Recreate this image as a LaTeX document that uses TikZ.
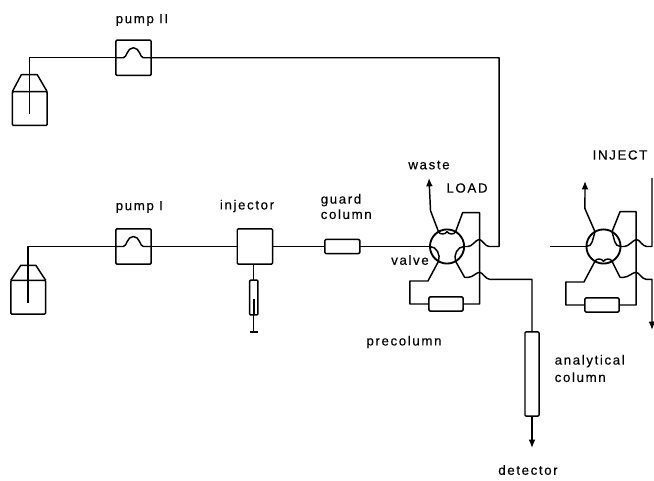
\documentclass[tikz,border=0pt]{standalone}
\usepackage{fontspec}
\setmainfont[LetterSpace=12,FakeBold=0.25]{Liberation Sans}
\usetikzlibrary{arrows.meta,positioning,calc}

\begin{document}
\begin{tikzpicture}[
  x=0.75pt,y=-0.75pt,
  font=\fontsize{10}{11.5}\selectfont, line width=1.1pt, line join=round,
  >={Latex[length=2.2mm,width=1.8mm]},
  unit/.style={draw,rounded corners=0.8pt,outer sep=0pt,inner sep=0pt},
  pumpbox/.style={unit,minimum width=9.3mm,minimum height=9.3mm},
  tubebox/.style={unit,minimum width=9.2mm,minimum height=3.7mm},
  flask/.style={unit,minimum width=9.2mm,minimum height=8.9mm},
  valvebox/.style={unit,circle,minimum size=9mm,line width=1.4pt},
  lbl/.style={inner sep=0pt,align=left}]
  \useasboundingbox (0,0) rectangle (654,481);
  % pumps and the first row
  \node[pumpbox] (pumpI) at (133.5,246.5) {};
  \node[pumpbox,above=40.45mm of pumpI] (pumpII) {};
  \node[pumpbox,right=22.7mm of pumpI] (injector) {};
  \node[tubebox,right=13.8mm of injector] (guard) {};
  \node[valvebox,right=18.5mm of guard] (valveL) {};
  \node[unit,minimum width=2.2mm,minimum height=9.2mm,below=4.2mm of injector,xshift=-0.3mm] (syringe) {};
  \node[tubebox,minimum width=9mm] (preL) at (446,304) {};
  \node[unit,minimum width=3.7mm,minimum height=22.2mm] (analytical) at (532,374) {};
  % the second valve
  \node[valvebox] (valveI) at (603.5,246.5) {};
  \node[tubebox,minimum width=9mm] (preI) at (602,305) {};
  % solvent flasks
  \node[flask,left=18.5mm of pumpI,yshift=-13.36mm] (flaskI) {};
  \node[flask,left=18.1mm of pumpII,yshift=-13.4mm] (flaskII) {};
  \draw (flaskI.north west) -- ++(10,-15) -- ++(15,0) -- (flaskI.north east);
  \draw (flaskII.north west) -- ++(9,-17) -- ++(16,0) -- (flaskII.north east);
  \coordinate (dipI) at ($(flaskI.south)+(0,-11)$);
  \coordinate (dipII) at ($(flaskII.south)+(0,-11)$);
  \draw (pumpI.west) -| (dipI);
  \draw (pumpII.west) -| (dipII);
  % pump heads
  \draw (pumpI.west) -- ++(7.5,0) .. controls +(3.5,0) and +(-6.5,0) .. ++(10,-10)
    .. controls +(6.5,0) and +(-3.5,0) .. ++(10,10) -- (pumpI.east);
  \draw (pumpII.west) -- ++(7.5,0) .. controls +(3.5,0) and +(-6.5,0) .. ++(10,-10)
    .. controls +(6.5,0) and +(-3.5,0) .. ++(10,10) -- (pumpII.east);
  % first row connectors
  \draw (pumpI.east) -- (injector.west);
  \draw (injector.east) -- (guard.west);
  \draw (guard.east) -- (valveL.west);
  \draw (injector.south -| syringe.north) -- (syringe.north);
  \coordinate (syringeEnd) at ($(syringe.south)+(0,17)$);
  \draw (syringe.south) -- (syringeEnd);
  \draw ($(syringeEnd)+(-4,0)$) -- ($(syringeEnd)+(4,0)$);
  \draw[line width=1.6pt] ($(syringe.south)+(0,-16)$) -- (syringe.south);
  % valve LOAD
  \coordinate (wasteL) at (429,178);
  \coordinate (detectorEnd) at (532,448);
  \draw[->] (valveL.120) -- ++(-8,-21) -- (wasteL);
  \draw (valveL.60) -- ++(7,-19) -- ++(17,0) |- (preL.east);
  \draw (preL.west) -- ++(-19,0) -- ++(0,-23) -- ++(18,0) -- (valveL.240);
  \draw (valveL.east) -- ++(4,0) .. controls +(4,0) and +(-3,0) .. ++(11,-7)
    .. controls +(3,0) and +(-4,0) .. ++(10,7) -- ++(10,0) |- (pumpII.east);
  \draw (valveL.300) -- ++(9,16) -- ++(4,0) .. controls +(4,0) and +(-3,0) .. ++(11,-5)
    .. controls +(3,0) and +(-4,0) .. ++(10,7) -| (analytical.north);
  \draw[->] (analytical.south) -- (detectorEnd);
  \draw (valveL.120) to[out=-70,in=-120] ($(valveL.120)!.5!(valveL.60)$)
    to[out=-60,in=-110] (valveL.60);
  \draw (valveL.west) to[out=0,in=70] (valveL.240);
  \draw (valveL.east) to[out=180,in=110] (valveL.300);
  % valve INJECT
  \coordinate (wasteI) at (585,181);
  \coordinate (returnI) at (652,178);
  \coordinate (outI) at (652,330);
  \coordinate (inI) at (550,246.5);
  \draw (inI) -- (valveI.west);
  \draw[->] (valveI.120) -- ++(-10,-23) -- (wasteI);
  \draw (valveI.60) -- ++(8,-20) -- ++(16,0) |- (preI.east);
  \draw (preI.west) -- ++(-19,0) -- ++(0,-23) -- ++(18,0) -- (valveI.240);
  \draw (valveI.east) -- ++(4,0) .. controls +(4,0) and +(-3,0) .. ++(12,-7)
    .. controls +(3,0) and +(-4,0) .. ++(10,7) -| (returnI);
  \draw[->] (valveI.300) -- ++(8,16) -- ++(4,0) .. controls +(4,0) and +(-3,0) .. ++(12,-5)
    .. controls +(3,0) and +(-4,0) .. ++(10,7) -| (outI);
  \draw (valveI.west) to[out=0,in=-110] (valveI.120);
  \draw (valveI.east) to[out=180,in=-70] (valveI.60);
  \draw (valveI.240) to[out=70,in=120] ($(valveI.240)!.5!(valveI.300)$)
    to[out=60,in=110] (valveI.300);
  % labels
  \node[lbl,anchor=west] (pumpIIlabel) at (115,20) {pump II};
  \node[lbl,anchor=west] (pumpIlabel) at (115,207) {pump I};
  \node[lbl] (injectorlabel) at (247,206) {injector};
  \node[lbl,anchor=west] (guardlabel) at (320,206.5) {guard\\column};
  \node[lbl] (wastelabel) at (429,165) {waste};
  \node[lbl] (loadlabel) at (467,188) {LOAD};
  \node[lbl] (valvelabel) at (410,260) {valve};
  \node[lbl] (injectlabel) at (620,155) {INJECT};
  \node[lbl] (precolumnlabel) at (404,342) {precolumn};
  \node[lbl,anchor=west] (analyticallabel) at (554,368.5) {analytical\\[1.5pt]column};
  \node[lbl] (detectorlabel) at (528,470) {detector};
\end{tikzpicture}
\end{document}
